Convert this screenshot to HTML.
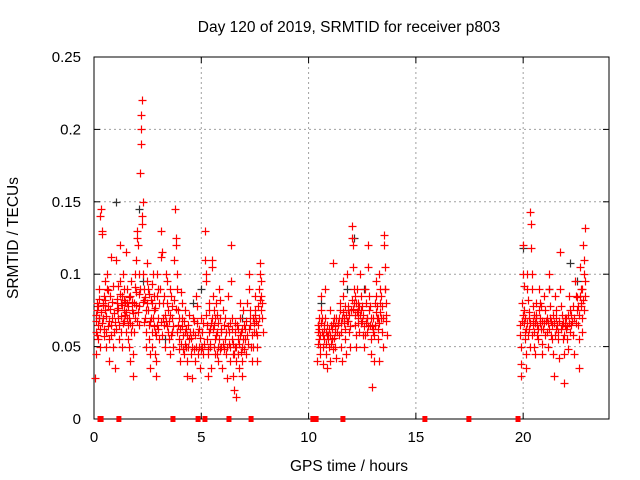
<!DOCTYPE html>
<html><head><meta charset="utf-8"><style>
body{margin:0;background:#fff;}
svg{display:block;font-family:"Liberation Sans",sans-serif;}
</style></head><body>
<svg id="chart" width="640" height="480">
<rect width="640" height="480" fill="#fff"/>
<g id="grid"></g><g id="axes"></g><g id="marks"></g>
<text x="349" y="32" font-size="15.5" text-anchor="middle">Day 120 of 2019, SRMTID for receiver p803</text>
<text x="349" y="471" font-size="15.5" text-anchor="middle">GPS time / hours</text>
<text transform="translate(18,238) rotate(-90)" font-size="15.5" text-anchor="middle">SRMTID / TECUs</text>
</svg>
<script>
const xTicks=[0,5,10,15,20];
const yTicks=[0,0.05,0.1,0.15,0.2,0.25];
const yTickLabels=["0","0.05","0.1","0.15","0.2","0.25"];
const redPts=[0.05,.028,0.08,.045,0.1,.06,0.12,.075,0.15,.08,0.18,.065,0.2,.055,0.22,.09,0.25,.07,0.28,.05,0.3,.14,0.32,.145,0.35,.128,0.38,.13,0.4,.08,0.42,.07,0.45,.062,0.48,.085,0.5,.095,0.52,.075,0.55,.06,0.58,.05,0.6,.09,0.62,.1,0.65,.078,0.68,.068,0.7,.055,0.72,.04,0.75,.085,0.78,.112,0.8,.065,0.85,.07,0.9,.05,0.95,.06,1.0,.035,1.02,.11,1.05,.08,1.08,.075,1.1,.092,1.12,.07,1.15,.065,1.18,.055,1.2,.12,1.22,.095,1.25,.08,1.28,.06,1.3,.05,1.32,.085,1.35,.1,1.38,.075,1.4,.068,1.42,.09,1.45,.072,1.48,.06,1.5,.115,1.52,.09,1.55,.08,1.58,.065,1.6,.055,1.62,.07,1.65,.05,1.68,.04,1.7,.085,1.72,.095,1.75,.075,1.78,.065,1.8,.045,1.82,.03,1.85,.06,1.88,.08,1.9,.07,1.92,.1,1.95,.11,1.98,.088,2.0,.125,2.02,.13,2.05,.12,2.08,.1,2.1,.078,2.12,.065,2.15,.17,2.17,.19,2.18,.2,2.2,.2,2.21,.21,2.22,.22,2.23,.14,2.25,.135,2.27,.15,2.3,.1,2.32,.09,2.35,.082,2.38,.07,2.4,.06,2.42,.05,2.45,.108,2.48,.095,2.5,.09,2.52,.075,2.55,.065,2.58,.055,2.6,.045,2.62,.035,2.65,.07,2.68,.08,2.7,.06,2.72,.05,2.75,.1,2.78,.085,2.8,.075,2.82,.06,2.85,.045,2.88,.04,2.9,.03,2.92,.065,2.95,.1,2.98,.09,3.0,.07,3.05,.055,3.1,.13,3.12,.112,3.15,.115,3.2,.08,3.22,.07,3.25,.065,3.3,.05,3.35,.1,3.38,.095,3.4,.08,3.45,.06,3.5,.055,3.52,.045,3.55,.09,3.6,.085,3.62,.07,3.65,.06,3.7,.05,3.75,.11,3.78,.145,3.8,.12,3.82,.125,3.85,.1,3.88,.09,3.9,.075,3.92,.065,3.95,.055,3.98,.048,4.0,.04,4.05,.088,4.1,.08,4.12,.07,4.15,.058,4.2,.045,4.22,.06,4.25,.075,4.3,.05,4.32,.04,4.35,.03,4.4,.065,4.45,.055,4.5,.045,4.55,.028,4.6,.07,4.62,.06,4.65,.048,4.7,.04,4.75,.085,4.8,.078,4.85,.06,4.9,.05,4.95,.035,5.0,.07,5.05,.05,5.1,.045,5.15,.11,5.18,.13,5.2,.1,5.22,.095,5.25,.065,5.28,.055,5.3,.045,5.32,.03,5.35,.08,5.38,.075,5.4,.062,5.42,.05,5.45,.035,5.5,.105,5.52,.11,5.55,.085,5.58,.075,5.6,.065,5.62,.055,5.65,.045,5.7,.08,5.72,.072,5.75,.06,5.78,.05,5.8,.04,5.82,.09,5.85,.082,5.88,.07,5.9,.06,5.92,.05,5.95,.035,6.0,.075,6.05,.065,6.1,.055,6.15,.045,6.2,.028,6.25,.085,6.3,.06,6.32,.05,6.35,.04,6.38,.12,6.4,.095,6.42,.07,6.45,.055,6.48,.045,6.5,.03,6.52,.02,6.55,.06,6.58,.05,6.6,.04,6.62,.015,6.65,.065,6.7,.055,6.72,.045,6.75,.035,6.8,.08,6.82,.07,6.85,.06,6.88,.05,6.9,.04,6.92,.03,6.95,.075,7.0,.065,7.05,.055,7.1,.045,7.15,.08,7.2,.1,7.22,.09,7.25,.075,7.28,.065,7.3,.05,7.35,.04,7.4,.07,7.45,.06,7.5,.085,7.52,.075,7.55,.06,7.58,.05,7.6,.04,7.65,.065,7.7,.09,7.72,.1,7.75,.108,7.78,.095,7.8,.085,7.82,.08,7.85,.07,7.88,.06,
10.4,.04,10.42,.065,10.45,.06,10.48,.055,10.5,.07,10.52,.05,10.55,.045,10.58,.085,10.6,.075,10.62,.06,10.65,.05,10.68,.038,10.7,.065,10.72,.055,10.75,.09,10.78,.07,10.8,.06,10.82,.045,10.85,.035,10.88,.065,10.9,.058,10.95,.05,11.0,.075,11.02,.04,11.05,.065,11.1,.055,11.12,.048,11.15,.108,11.2,.07,11.22,.06,11.25,.05,11.3,.042,11.35,.065,11.4,.058,11.45,.08,11.48,.075,11.5,.06,11.52,.05,11.55,.04,11.6,.095,11.62,.085,11.65,.07,11.7,.062,11.72,.055,11.75,.045,11.8,.1,11.82,.075,11.85,.068,11.9,.06,11.95,.05,12.0,.133,12.02,.125,12.05,.12,12.08,.105,12.1,.09,12.12,.08,12.15,.072,12.18,.065,12.2,.058,12.22,.05,12.25,.09,12.28,.08,12.3,.075,12.32,.07,12.35,.06,12.4,.1,12.42,.085,12.45,.075,12.5,.068,12.55,.058,12.6,.05,12.65,.09,12.68,.08,12.7,.07,12.72,.06,12.75,.12,12.78,.105,12.8,.085,12.82,.075,12.85,.065,12.9,.055,12.92,.045,12.95,.022,13.0,.07,13.02,.06,13.05,.04,13.1,.08,13.12,.095,13.15,.085,13.2,.07,13.22,.062,13.25,.055,13.28,.04,13.3,.1,13.32,.09,13.35,.08,13.38,.07,13.4,.06,13.45,.05,13.5,.127,13.52,.12,13.55,.105,13.58,.09,13.6,.08,13.62,.068,13.65,.058,
19.85,.065,19.88,.05,19.9,.038,19.92,.03,19.95,.08,19.98,.1,20.0,.12,20.02,.092,20.05,.075,20.08,.06,20.1,.055,20.12,.045,20.15,.035,20.18,.09,20.2,.1,20.22,.082,20.25,.07,20.28,.062,20.3,.05,20.32,.143,20.35,.135,20.38,.118,20.4,.1,20.42,.09,20.45,.078,20.48,.068,20.5,.06,20.52,.05,20.55,.045,20.6,.08,20.62,.072,20.65,.065,20.7,.055,20.75,.09,20.78,.08,20.8,.07,20.85,.062,20.88,.052,20.9,.045,20.95,.085,21.0,.075,21.05,.068,21.1,.06,21.15,.05,21.2,.1,21.22,.09,21.25,.078,21.3,.068,21.35,.055,21.4,.045,21.45,.03,21.5,.085,21.52,.075,21.55,.062,21.6,.055,21.65,.042,21.7,.115,21.72,.09,21.75,.078,21.8,.065,21.85,.055,21.88,.045,21.9,.025,21.95,.07,22.0,.062,22.05,.055,22.1,.048,22.15,.085,22.2,.075,22.25,.065,22.3,.058,22.35,.045,22.4,.095,22.45,.085,22.5,.075,22.55,.065,22.6,.055,22.62,.035,22.65,.105,22.68,.09,22.7,.08,22.72,.07,22.75,.06,22.8,.12,22.82,.11,22.85,.1,22.88,.132,22.9,.085];
const redPtsExtra=[0.07,.072,0.11,.068,0.14,.058,0.17,.078,0.21,.083,0.27,.062,0.33,.074,0.37,.066,0.44,.079,0.47,.057,0.53,.082,0.57,.071,0.63,.064,0.67,.089,0.74,.076,0.79,.058,0.83,.081,0.88,.092,0.93,.073,0.98,.067,1.04,.062,1.09,.083,1.14,.077,1.19,.086,1.24,.071,1.29,.079,1.34,.066,1.39,.082,1.44,.081,1.49,.074,1.54,.07,1.59,.078,1.64,.084,1.69,.066,1.74,.06,1.79,.081,1.84,.073,1.89,.091,1.94,.079,1.99,.068,2.04,.074,2.09,.086,2.14,.09,2.29,.081,2.34,.067,2.39,.084,2.44,.075,2.49,.08,2.54,.086,2.59,.068,2.64,.082,2.69,.093,2.74,.07,2.79,.064,2.84,.077,2.89,.058,2.94,.085,2.99,.062,3.04,.08,3.09,.09,3.14,.067,3.19,.058,3.24,.085,3.29,.072,3.34,.068,3.39,.064,3.44,.075,3.49,.068,3.54,.072,3.59,.058,3.64,.078,3.69,.064,3.74,.082,3.84,.076,3.89,.06,3.94,.07,3.99,.062,4.04,.052,4.09,.064,4.14,.048,4.19,.068,4.24,.052,4.29,.062,4.34,.058,4.39,.05,4.44,.072,4.49,.06,4.54,.056,4.59,.05,4.64,.068,4.69,.058,4.74,.05,4.79,.066,4.84,.045,4.89,.062,4.94,.056,4.99,.048,5.04,.06,5.09,.066,5.14,.052,5.24,.072,5.29,.048,5.34,.06,5.39,.052,5.44,.066,5.49,.07,5.54,.062,5.59,.05,5.64,.07,5.69,.058,5.74,.045,5.79,.066,5.84,.055,5.89,.048,5.94,.062,5.99,.052,6.04,.048,6.09,.07,6.14,.06,6.19,.05,6.24,.064,6.29,.052,6.34,.066,6.44,.062,6.49,.052,6.54,.045,6.59,.066,6.64,.05,6.69,.062,6.74,.052,6.79,.058,6.84,.046,6.89,.062,6.94,.055,6.99,.048,7.04,.062,7.09,.068,7.14,.058,7.19,.052,7.24,.062,7.29,.07,7.34,.058,7.39,.05,7.44,.066,7.49,.072,7.54,.068,7.59,.058,7.64,.078,7.69,.07,7.74,.082,7.79,.075,
10.44,.052,10.49,.062,10.54,.058,10.59,.066,10.64,.07,10.69,.058,10.74,.062,10.79,.052,10.84,.058,10.89,.055,10.94,.062,10.99,.058,11.04,.052,11.09,.062,11.14,.066,11.19,.056,11.24,.064,11.29,.07,11.34,.06,11.39,.066,11.44,.07,11.49,.066,11.54,.07,11.59,.074,11.64,.066,11.69,.078,11.74,.072,11.79,.068,11.84,.078,11.89,.072,11.94,.064,11.99,.075,12.04,.082,12.09,.076,12.14,.085,12.19,.08,12.24,.074,12.29,.066,12.34,.078,12.39,.072,12.44,.066,12.49,.078,12.54,.072,12.59,.064,12.64,.058,12.69,.066,12.74,.07,12.79,.064,12.84,.078,12.89,.07,12.94,.064,12.99,.062,13.04,.058,13.09,.065,13.14,.074,13.19,.078,13.24,.07,13.29,.066,13.34,.074,13.39,.085,13.44,.078,13.49,.07,13.54,.09,13.59,.072,
19.87,.058,19.94,.068,19.99,.072,20.04,.066,20.09,.07,20.14,.062,20.19,.066,20.24,.058,20.29,.074,20.34,.066,20.39,.058,20.44,.065,20.49,.072,20.54,.066,20.59,.07,20.64,.058,20.69,.062,20.74,.075,20.79,.066,20.84,.078,20.89,.068,20.94,.062,20.99,.066,21.04,.058,21.09,.07,21.14,.066,21.19,.062,21.24,.07,21.29,.058,21.34,.065,21.39,.072,21.44,.066,21.49,.058,21.54,.07,21.59,.065,21.64,.06,21.69,.068,21.74,.062,21.79,.072,21.84,.066,21.89,.058,21.94,.065,21.99,.07,22.04,.064,22.09,.072,22.14,.066,22.19,.06,22.24,.072,22.29,.068,22.34,.078,22.39,.07,22.44,.066,22.49,.084,22.54,.078,22.59,.072,22.64,.085,22.69,.078,22.74,.09,22.79,.082,22.84,.075,22.89,.095];
const blackPts=[0.25,.07,1.02,.15,2.1,.145,2.3,.095,3.3,.055,4.6,.08,5.0,.09,6.9,.07,10.6,.08,11.8,.09,12.1,.125,12.6,.09,20.0,.118,21.2,.09,22.2,.108,22.5,.095];
const gapMarks=[0.28,0.33,1.16,3.68,4.85,5.17,6.29,7.32,10.2,10.35,11.6,15.42,17.47,19.76];

const L=94,R=609,T=57,B=419;
const X=h=>L+(h/24)*(R-L);
const Y=v=>B-(v/0.25)*(B-T);
const NS="http://www.w3.org/2000/svg";
function mk(tag,attrs,parent){const e=document.createElementNS(NS,tag);for(const k in attrs)e.setAttribute(k,attrs[k]);parent.appendChild(e);return e;}
const grid=document.getElementById('grid'),axes=document.getElementById('axes'),marks=document.getElementById('marks');
xTicks.forEach((t,i)=>{
  if(t>0){const g=mk('line',{x1:X(t),x2:X(t),y1:T,y2:B,stroke:'#a0a0a0','stroke-dasharray':'2,3'},grid);
  
  }
  mk('line',{x1:X(t),x2:X(t),y1:B,y2:B-6,stroke:'#000'},axes);
  mk('line',{x1:X(t),x2:X(t),y1:T,y2:T+6,stroke:'#000'},axes);
  const l=mk('text',{x:X(t),y:B+23,'font-size':15,'text-anchor':'middle'},axes);l.textContent=t;
  
  
});
yTicks.forEach((v,i)=>{
  if(v>0&&v<0.25){const g=mk('line',{x1:L,x2:R,y1:Y(v),y2:Y(v),stroke:'#a0a0a0','stroke-dasharray':'2,3'},grid);
  
  }
  mk('line',{x1:L,x2:L+6,y1:Y(v),y2:Y(v),stroke:'#000'},axes);
  mk('line',{x1:R,x2:R-6,y1:Y(v),y2:Y(v),stroke:'#000'},axes);
  const l=mk('text',{x:L-13,y:Y(v)+5,'font-size':15,'text-anchor':'end'},axes);l.textContent=yTickLabels[i];
  
  
});
const fr=mk('rect',{x:L,y:T,width:R-L,height:B-T,fill:'none',stroke:'#000'},axes);


function cross(pts,color,name){
  let d='';
  for(let i=0;i<pts.length;i+=2){const x=Math.round(X(pts[i]))+0.5,y=Math.round(Y(pts[i+1]))+0.5;d+=`M${x-4} ${y}H${x+4}M${x} ${y-4}V${y+4}`;}
  const p=mk('path',{d:d,stroke:color,'stroke-width':1.2,fill:'none'},marks);
  
  
}
cross(blackPts,'#333','black-series-points');
cross(redPts,'#ff0000','srmtid-points');
cross(redPtsExtra,'#ff0000','srmtid-points-dense');
gapMarks.forEach(h=>{
  const r=mk('rect',{x:X(h)-2.5,y:B-3,width:5,height:6,fill:'#ff0000'},marks);
  
  
});
</script>
</body></html>
